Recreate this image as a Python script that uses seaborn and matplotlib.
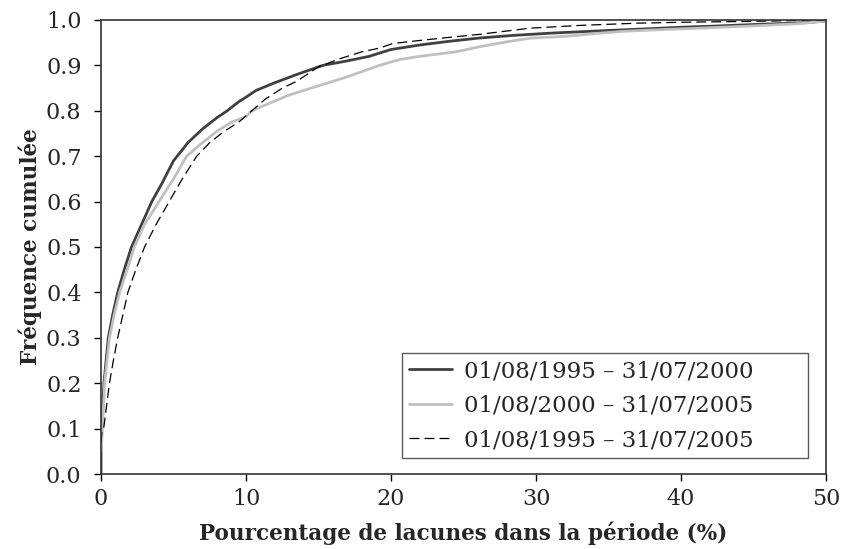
import matplotlib
matplotlib.use("Agg")
import matplotlib.pyplot as plt
import seaborn as sns

sns.set_style("ticks")
plt.rcParams["font.family"] = ["DejaVu Serif"]

# cumulative frequency curves
x_9500 = [0, 0, 0.05, 0.2, 0.5, 0.8, 1.15, 1.6, 2.1, 2.8, 3.5, 4.2, 5.0, 6.0, 7.0,
          8.0, 8.7, 9.5, 10.0, 10.7, 12.0, 13.5, 15.3, 17, 18.5, 20, 22, 24, 26,
          28.4, 31, 33, 35.8, 38, 40, 42.7, 45, 48.6, 50]
y_9500 = [0.0, 0.08, 0.1, 0.2, 0.3, 0.35, 0.4, 0.45, 0.5, 0.55, 0.6, 0.64, 0.69,
          0.73, 0.76, 0.785, 0.80, 0.82, 0.83, 0.845, 0.862, 0.88, 0.90, 0.91, 0.92,
          0.935, 0.945, 0.953, 0.96, 0.966, 0.971, 0.974, 0.978, 0.981, 0.984,
          0.987, 0.99, 0.994, 0.998]

x_0005 = [0, 0.1, 0.25, 0.58, 0.9, 1.28, 1.8, 2.3, 3.0, 4.0, 5.0, 5.9, 7.0, 8.0,
          9.0, 10.0, 10.4, 11.5, 13, 15, 17, 19.2, 20.6, 22, 24.5, 26.1, 28, 29.6,
          32, 34.4, 36, 38, 41.3, 45, 48.2, 50]
y_0005 = [0.05, 0.1, 0.2, 0.3, 0.35, 0.4, 0.45, 0.5, 0.55, 0.6, 0.65, 0.7, 0.73,
          0.755, 0.775, 0.787, 0.80, 0.815, 0.835, 0.855, 0.875, 0.90, 0.913, 0.92,
          0.93, 0.941, 0.952, 0.96, 0.964, 0.971, 0.975, 0.978, 0.982, 0.987,
          0.992, 0.998]

x_9505 = [0, 0.05, 0.18, 0.58, 0.85, 1.15, 1.5, 1.85, 2.4, 3.0, 3.8, 4.7, 5.6, 6.6,
          7.5, 8.5, 9.5, 10.4, 11.3, 12.5, 13.5, 15, 16.5, 18, 19.2, 20.1, 22,
          23.8, 26, 29.6, 33, 37, 40, 45, 50]
y_9505 = [0.07, 0.09, 0.1, 0.2, 0.25, 0.3, 0.35, 0.4, 0.45, 0.5, 0.55, 0.6, 0.65,
          0.7, 0.73, 0.755, 0.775, 0.80, 0.825, 0.85, 0.865, 0.897, 0.915, 0.93,
          0.938, 0.948, 0.955, 0.961, 0.968, 0.982, 0.988, 0.993, 0.995, 0.997, 1.0]

labels = ["01/08/1995 – 31/07/2000", "01/08/2000 – 31/07/2005",
          "01/08/1995 – 31/07/2005"]

fig = plt.figure(figsize=(8.42, 5.49), dpi=100)
ax = fig.add_axes([0.12, 0.1366, 0.861, 0.827])

sns.lineplot(x=x_9500, y=y_9500, ax=ax, color="#404040", lw=2, sort=False,
             estimator=None, label=labels[0])
sns.lineplot(x=x_0005, y=y_0005, ax=ax, color="#c0c0c0", lw=2, sort=False,
             estimator=None, label=labels[1])
sns.lineplot(x=x_9505, y=y_9505, ax=ax, color="black", lw=0.9, sort=False,
             estimator=None, label=labels[2])
ax.lines[2].set_dashes([8, 4])

ax.set_xlim(0, 50)
ax.set_ylim(0, 1.0)
ax.set_xticks([0, 10, 20, 30, 40, 50])
ax.set_yticks([i / 10 for i in range(11)])
ax.set_yticklabels([f"{i / 10:.1f}" for i in range(11)])
ax.tick_params(axis="both", labelsize=16, length=5, width=1, color="black",
               direction="out", top=False, right=False)
ax.tick_params(axis="x", pad=5)
ax.tick_params(axis="y", pad=9)
for s in ax.spines.values():
    s.set_color("#333333")
    s.set_linewidth(1.2)

ax.set_xlabel("Pourcentage de lacunes dans la période (%)", fontsize=15.5,
              fontweight="bold", labelpad=8)
ax.set_ylabel("Fréquence cumulée", fontsize=15.5, fontweight="bold", labelpad=3)

leg = ax.legend(loc="lower left", fontsize=16.5, frameon=True, fancybox=False,
                edgecolor="#333333", handlelength=1.9, handletextpad=0.5,
                borderpad=0.3, labelspacing=0.55, borderaxespad=0,
                bbox_to_anchor=(0.415, 0.035, 0.56, 0.2), mode="expand")
leg.get_frame().set_linewidth(1)

fig.savefig("out.png", dpi=100)
